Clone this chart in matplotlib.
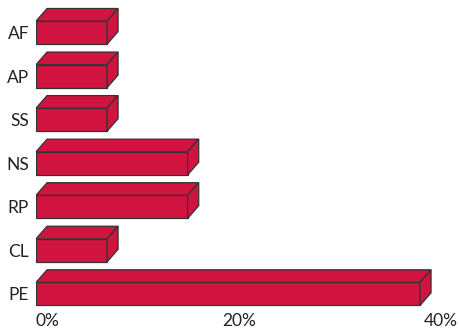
import numpy as np
import matplotlib.pyplot as plt
from matplotlib.patches import Polygon
from matplotlib.transforms import ScaledTranslation

# data, bottom to top
categories = ["PE", "CL", "RP", "NS", "SS", "AP", "AF"]
values = [40, 7.4, 15.8, 15.8, 7.4, 7.4, 7.4]
tick_vals = [0, 20, 40]
tick_labels = ["0%", "20%", "40%"]

plt.rcParams['font.family'] = ['Lato', 'DejaVu Sans']

red = '#D0143F'
edge = '#333333'
h = 0.53       # bar thickness (category units)
dx = 1.15      # depth in x (percent units)
dy = 0.29      # depth in y (category units)

fig = plt.figure(figsize=(4.59, 3.31), dpi=100)
ax = fig.add_axes([36 / 459, 13.1 / 331, 420 / 459, 317.9 / 331])

y_pos = np.arange(len(categories))
ax.barh(y_pos, values, height=h, color=red, edgecolor=edge, linewidth=0.9, zorder=3)

for y, v in zip(y_pos, values):
    top = Polygon([(0, y + h / 2), (v, y + h / 2), (v + dx, y + h / 2 + dy), (dx, y + h / 2 + dy)],
                  closed=True, facecolor=red, edgecolor=edge, linewidth=0.9, zorder=3)
    side = Polygon([(v, y - h / 2), (v + dx, y - h / 2 + dy), (v + dx, y + h / 2 + dy), (v, y + h / 2)],
                   closed=True, facecolor=red, edgecolor=edge, linewidth=0.9, zorder=3)
    ax.add_patch(top)
    ax.add_patch(side)

ax.set_xlim(0, 420 / 9.6)
ax.set_ylim(-0.55, 6.75)

ax.set_yticks(y_pos)
ax.set_yticklabels(categories, fontsize=12.5, color='#222222')
ax.set_xticks(tick_vals)
ax.set_xticklabels(tick_labels, fontsize=12.5, color='#222222')
ax.tick_params(axis='y', length=0, pad=5)
ax.tick_params(axis='x', length=0, pad=-3.7)

# tick labels sit under the back face of the bars (last one a bit further right)
for lab, off in zip(ax.get_xticklabels(), [11, 11, 21]):
    lab.set_transform(lab.get_transform() + ScaledTranslation(off / 100, 0, fig.dpi_scale_trans))

for s in ax.spines.values():
    s.set_visible(False)

fig.savefig('out.png', dpi=100)
